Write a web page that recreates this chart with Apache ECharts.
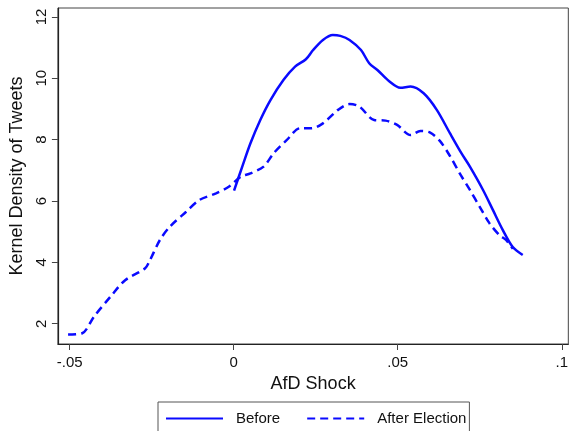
<!DOCTYPE html>
<html>
<head>
<meta charset="utf-8">
<script src="https://cdn.jsdelivr.net/npm/echarts@6/dist/echarts.min.js"></script>
<style>
html,body{margin:0;padding:0;background:#fff;}
#chart{width:571px;height:431px;}
</style>
</head>
<body>
<div id="chart"></div>
<script>
// Data
var seriesNames = ['Before', 'After Election'];
var beforeX = [0.0001, 0.0026, 0.0051, 0.0081, 0.0112, 0.0152, 0.0187, 0.0220, 0.0242, 0.0272, 0.0302, 0.0325, 0.0353, 0.0388, 0.0413, 0.0438, 0.0473, 0.0508, 0.0539, 0.0579, 0.0619, 0.0659, 0.0694, 0.0720, 0.0760, 0.0790, 0.0820, 0.0850, 0.0881];
var beforeY = [6.34, 7.12, 7.88, 8.64, 9.29, 9.95, 10.38, 10.62, 10.92, 11.25, 11.41, 11.38, 11.25, 10.92, 10.49, 10.27, 9.91, 9.69, 9.73, 9.51, 8.97, 8.21, 7.56, 7.12, 6.36, 5.71, 5.06, 4.51, 4.24];
var afterX = [-0.0505, -0.0462, -0.0426, -0.0376, -0.0331, -0.0270, -0.0255, -0.0225, -0.0195, -0.0145, -0.0105, -0.0054, -0.0014, 0.0021, 0.0051, 0.0091, 0.0122, 0.0162, 0.0202, 0.0237, 0.0272, 0.0318, 0.0353, 0.0383, 0.0428, 0.0463, 0.0498, 0.0539, 0.0569, 0.0599, 0.0629, 0.0659, 0.0689, 0.0720, 0.0750, 0.0780, 0.0810, 0.0830, 0.0851];
var afterY = [1.65, 1.69, 2.23, 2.88, 3.42, 3.81, 4.08, 4.73, 5.16, 5.65, 6.03, 6.25, 6.47, 6.79, 6.90, 7.12, 7.56, 7.99, 8.37, 8.37, 8.53, 8.97, 9.16, 9.08, 8.64, 8.62, 8.48, 8.15, 8.28, 8.23, 7.95, 7.47, 6.90, 6.36, 5.81, 5.27, 4.89, 4.73, 4.44];
var xTicks = [-0.05, 0, 0.05, 0.1];
var yTicks = [2, 4, 6, 8, 10, 12];
var xTitle = 'AfD Shock';
var yTitle = 'Kernel Density of Tweets';

function pairs(xs, ys) { return xs.map(function (x, i) { return [x, ys[i]]; }); }
function fmtX(v) {
  if (Math.abs(v) < 1e-12) return '0';
  var s = String(Math.abs(v)).replace(/^0/, '');
  return (v < 0 ? '-' : '') + s;
}

var FONT = '"Liberation Sans", Arial, sans-serif';
var chart = echarts.init(document.getElementById('chart'), null, {renderer: 'canvas'});
chart.setOption({
  animation: false,
  backgroundColor: '#fff',
  grid: {left: 57, top: 8, right: -3, bottom: 87, show: true, borderColor: '#444', borderWidth: 1, backgroundColor: 'transparent'},
  xAxis: {
    type: 'value', min: -0.0536, max: 0.1020,
    name: xTitle, nameLocation: 'middle', nameGap: 29,
    nameTextStyle: {fontFamily: FONT, fontSize: 18, color: '#111'},
    axisLine: {show: true, onZero: false, lineStyle: {color: '#222', width: 1.2}},
    axisTick: {show: true, length: 6, lineStyle: {color: '#444'}, customValues: xTicks},
    axisLabel: {fontFamily: FONT, fontSize: 15, color: '#111', margin: 11, customValues: xTicks, formatter: fmtX},
    splitLine: {show: false}
  },
  yAxis: {
    type: 'value', min: 1.34, max: 12.29,
    name: yTitle, nameLocation: 'middle', nameGap: 29, nameRotate: 90,
    nameTextStyle: {fontFamily: FONT, fontSize: 18, color: '#111'},
    axisLine: {show: true, onZero: false, lineStyle: {color: '#222', width: 1.2}},
    axisTick: {show: true, length: 6, lineStyle: {color: '#444'}, customValues: yTicks},
    axisLabel: {fontFamily: FONT, fontSize: 15, color: '#111', margin: 9, rotate: 90, customValues: yTicks},
    splitLine: {show: false}
  },
  legend: {
    left: 158, top: 402,
    padding: [9, 3, 20, 7],
    borderColor: '#555', borderWidth: 1, backgroundColor: '#fff',
    itemWidth: 57, itemHeight: 14, itemGap: 26,
    itemStyle: {opacity: 0},
    textStyle: {fontFamily: FONT, fontSize: 15, color: '#111', padding: [0, 0, 0, 8]},
    data: seriesNames
  },
  series: [
    {
      name: seriesNames[0], type: 'line', data: pairs(beforeX, beforeY),
      symbol: 'none', smooth: 0.3,
      lineStyle: {color: '#0a0aff', width: 2.5, type: 'solid'},
      itemStyle: {color: '#0a0aff'}
    },
    {
      name: seriesNames[1], type: 'line', data: pairs(afterX, afterY),
      symbol: 'none', smooth: 0.3,
      lineStyle: {color: '#0a0aff', width: 2.5, type: [8, 5]},
      itemStyle: {color: '#0a0aff'}
    }
  ]
});
</script>
</body>
</html>
